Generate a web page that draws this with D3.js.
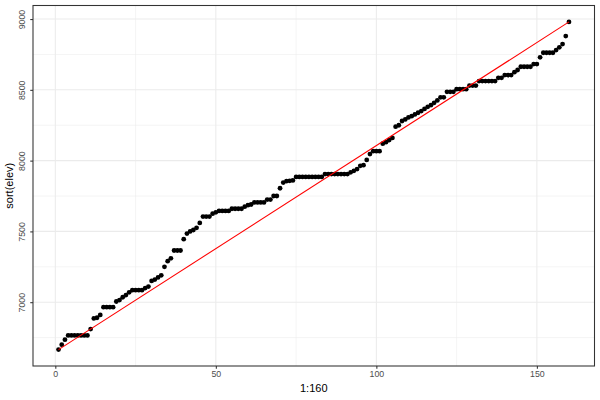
<!DOCTYPE html>
<html>
<head>
<meta charset="utf-8">
<script src="https://cdn.jsdelivr.net/npm/d3@7"></script>
<style>
html,body{margin:0;padding:0;background:#fff;}
svg{display:block;font-family:"Liberation Sans",Arial,Helvetica,sans-serif;}
</style>
</head>
<body>
<svg id="chart" width="600" height="400"></svg>
<script>
// sorted elevation values (index 1..160)
const elev = [
  6665, 6700, 6735,
  6765, 6765, 6765, 6765, 6765, 6765, 6765,
  6810, 6885, 6890, 6910,
  6965, 6965, 6965, 6965,
  7005, 7015, 7035, 7050, 7070,
  7085, 7085, 7085, 7085,
  7100, 7110, 7150, 7160, 7175, 7190, 7250, 7290, 7310,
  7365, 7365, 7365,
  7445, 7485, 7500, 7510, 7525, 7560,
  7605, 7605, 7605,
  7625, 7635,
  7645, 7645, 7645, 7645,
  7660, 7660, 7660, 7660,
  7675, 7685, 7690,
  7705, 7705, 7705, 7705,
  7725, 7725, 7750, 7750,
  7805, 7845, 7855, 7857, 7860,
  7885, 7885, 7885, 7885, 7885, 7885, 7885, 7885, 7885,
  7905, 7905, 7905, 7905, 7905, 7905, 7905, 7905,
  7917, 7928, 7940, 7963, 7968, 8005, 8046,
  8067, 8067, 8067,
  8120, 8130, 8145, 8160, 8240, 8250, 8280, 8291, 8305, 8314, 8326, 8338, 8350,
  8365, 8380, 8392, 8408, 8425,
  8447, 8447,
  8486, 8486, 8486,
  8505, 8505, 8505, 8505,
  8530, 8530, 8530,
  8562, 8562, 8562, 8562, 8562, 8562,
  8585, 8585,
  8604, 8604, 8604,
  8625, 8640,
  8663, 8663, 8663, 8663,
  8682, 8682,
  8730,
  8762, 8762, 8762, 8762,
  8781, 8800, 8823, 8880, 8980
];
const index = d3.range(1, elev.length + 1);
const xTicks = [0, 50, 100, 150];
const xMinor = [25, 75, 125];
const yTicks = [7000, 7500, 8000, 8500, 9000];
const yMinor = [6750, 7250, 7750, 8250, 8750];
const xTitle = "1:160";
const yTitle = "sort(elev)";
// reference line between first and last sorted values
const lineX = [index[0], index[index.length - 1]];
const lineY = [elev[0], elev[elev.length - 1]];

const svg = d3.select("#chart");
const panel = {left: 33, right: 594.5, top: 5.5, bottom: 366};

const xExt = d3.extent(index), xPad = (xExt[1] - xExt[0]) * 0.05;
const yExt = d3.extent(elev), yPad = (yExt[1] - yExt[0]) * 0.05;
const x = d3.scaleLinear().domain([xExt[0] - xPad, xExt[1] + xPad]).range([panel.left, panel.right]);
const y = d3.scaleLinear().domain([yExt[0] - yPad, yExt[1] + yPad]).range([panel.bottom, panel.top]);

svg.append("rect").attr("x", panel.left).attr("y", panel.top)
  .attr("width", panel.right - panel.left).attr("height", panel.bottom - panel.top)
  .attr("fill", "#fff");

const grid = svg.append("g");
grid.selectAll(".xmin").data(xMinor).join("line")
  .attr("x1", d => x(d)).attr("x2", d => x(d)).attr("y1", panel.top).attr("y2", panel.bottom)
  .attr("stroke", "#EBEBEB").attr("stroke-width", 0.55);
grid.selectAll(".ymin").data(yMinor).join("line")
  .attr("y1", d => y(d)).attr("y2", d => y(d)).attr("x1", panel.left).attr("x2", panel.right)
  .attr("stroke", "#EBEBEB").attr("stroke-width", 0.55);
grid.selectAll(".xmaj").data(xTicks).join("line")
  .attr("x1", d => x(d)).attr("x2", d => x(d)).attr("y1", panel.top).attr("y2", panel.bottom)
  .attr("stroke", "#EBEBEB").attr("stroke-width", 1.07);
grid.selectAll(".ymaj").data(yTicks).join("line")
  .attr("y1", d => y(d)).attr("y2", d => y(d)).attr("x1", panel.left).attr("x2", panel.right)
  .attr("stroke", "#EBEBEB").attr("stroke-width", 1.07);

// points
svg.append("g").selectAll("circle").data(index).join("circle")
  .attr("cx", d => x(d)).attr("cy", (d, i) => y(elev[i])).attr("r", 2.4)
  .attr("fill", "#000");

// red line
svg.append("line")
  .attr("x1", x(lineX[0])).attr("y1", y(lineY[0]))
  .attr("x2", x(lineX[1])).attr("y2", y(lineY[1]))
  .attr("stroke", "#FF0000").attr("stroke-width", 1.07);

// panel border
svg.append("rect").attr("x", panel.left).attr("y", panel.top)
  .attr("width", panel.right - panel.left).attr("height", panel.bottom - panel.top)
  .attr("fill", "none").attr("stroke", "#333333").attr("stroke-width", 1.07);

// x axis
const xAxis = d3.axisBottom(x).tickValues(xTicks).tickSize(2.75).tickPadding(2.2).tickFormat(d3.format("d"));
const gx = svg.append("g").attr("transform", `translate(0,${panel.bottom})`).call(xAxis);
gx.select(".domain").remove();
gx.selectAll(".tick line").attr("stroke", "#333333").attr("stroke-width", 1.07);
gx.selectAll(".tick text").attr("fill", "#4D4D4D").style("font-size", "8.8px")
  .style("font-family", "'Liberation Sans',Arial,sans-serif");

// y axis
const yAxis = d3.axisLeft(y).tickValues(yTicks).tickSize(2.75).tickPadding(2.2).tickFormat(d3.format("d"));
const gy = svg.append("g").attr("transform", `translate(${panel.left},0)`).call(yAxis);
gy.select(".domain").remove();
gy.selectAll(".tick line").attr("stroke", "#333333").attr("stroke-width", 1.07);
gy.selectAll(".tick text").attr("fill", "#4D4D4D").style("font-size", "8.8px")
  .style("font-family", "'Liberation Sans',Arial,sans-serif")
  .attr("x", null).attr("dy", null)
  .attr("text-anchor", "middle")
  .attr("transform", "translate(-8,0) rotate(-90)");

// titles
svg.append("text").attr("x", (panel.left + panel.right) / 2).attr("y", 392)
  .attr("text-anchor", "middle").attr("fill", "#000").style("font-size", "11px")
  .text(xTitle);
svg.append("text").attr("transform", `translate(13,${(panel.top + panel.bottom) / 2}) rotate(-90)`)
  .attr("text-anchor", "middle").attr("fill", "#000").style("font-size", "11px")
  .text(yTitle);
</script>
</body>
</html>
